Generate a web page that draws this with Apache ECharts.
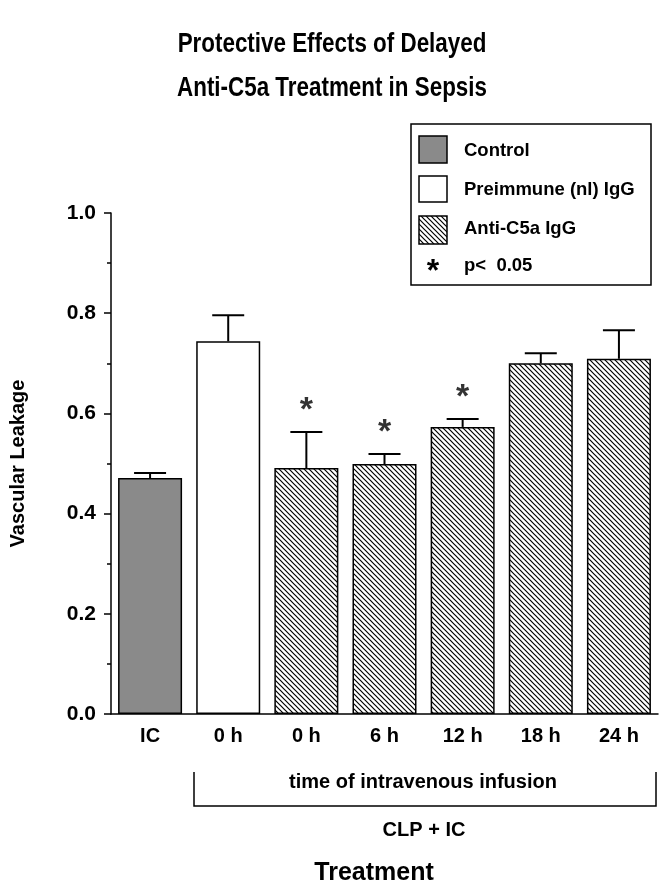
<!DOCTYPE html>
<html>
<head>
<meta charset="utf-8">
<script src="https://cdn.jsdelivr.net/npm/echarts@6/dist/echarts.min.js"></script>
<style>
html,body{margin:0;padding:0;background:#fff;}
#chart{width:665px;height:888px;}
</style>
</head>
<body>
<div id="chart"></div>
<script>
// ---- data ----
const categories = ['IC', '0 h', '0 h', '6 h', '12 h', '18 h', '24 h'];
const controlValues   = [0.471, '-', '-', '-', '-', '-', '-'];
const preimmuneValues = ['-', 0.744, '-', '-', '-', '-', '-'];
const antiC5aValues   = ['-', '-', 0.491, 0.499, 0.573, 0.700, 0.709];
const errorValues     = [0.010, 0.052, 0.072, 0.020, 0.016, 0.020, 0.057];
const significant     = [false, false, true, true, true, false, false];
const yTicks = [0, 0.2, 0.4, 0.6, 0.8, 1.0];

const titleLines = ['Protective Effects of Delayed', 'Anti-C5a Treatment in Sepsis'];
const legendLabels = ['Control', 'Preimmune (nl) IgG', 'Anti-C5a IgG', 'p<  0.05'];

// ---- helpers ----
function hatchCanvas() {
  const s = 5;
  const c = document.createElement('canvas');
  c.width = s; c.height = s;
  const g = c.getContext('2d');
  g.fillStyle = '#fff';
  g.fillRect(0, 0, s, s);
  g.strokeStyle = '#000';
  g.lineWidth = 1.2;
  g.beginPath();
  g.moveTo(-1, -1); g.lineTo(s + 1, s + 1);
  g.moveTo(-1, s - 1); g.lineTo(1, s + 1);
  g.moveTo(s - 1, -1); g.lineTo(s + 1, 1);
  g.stroke();
  return c;
}
const hatch = { image: hatchCanvas(), repeat: 'repeat' };
const grayFill = '#8a8a8a';
const FONT = '"Liberation Sans", Arial, sans-serif';

const means = categories.map((c, i) => {
  if (controlValues[i] !== '-') return controlValues[i];
  if (preimmuneValues[i] !== '-') return preimmuneValues[i];
  return antiC5aValues[i];
});
const starData = [];
categories.forEach((c, i) => { if (significant[i]) starData.push([i, means[i] + errorValues[i]]); });

const chart = echarts.init(document.getElementById('chart'), null, { renderer: 'canvas' });

const barBase = {
  type: 'bar',
  stack: 'one',
  barWidth: 64
};

const option = {
  animation: false,
  backgroundColor: '#fff',
  grid: { left: 110, right: 7, top: 213, bottom: 174, containLabel: false },
  xAxis: {
    type: 'category',
    data: categories,
    axisLine: { lineStyle: { color: '#000', width: 1.5 } },
    axisTick: { alignWithLabel: true, length: 6, lineStyle: { color: '#000', width: 1.5 } },
    axisLabel: { color: '#000', fontFamily: FONT, fontWeight: 'bold', fontSize: 20, margin: 12 },
    splitLine: { show: false }
  },
  yAxis: {
    type: 'value',
    min: 0, max: 1, interval: 0.2,
    name: 'Vascular Leakage',
    nameLocation: 'middle',
    nameRotate: 90,
    nameGap: 83,
    nameTextStyle: { color: '#000', fontFamily: FONT, fontWeight: 'bold', fontSize: 20 },
    axisLine: { show: true, lineStyle: { color: '#000', width: 1.5 } },
    axisTick: { show: true, length: 7, lineStyle: { color: '#000', width: 1.5 } },
    minorTick: { show: true, splitNumber: 2, length: 4, lineStyle: { color: '#000', width: 1.5 } },
    axisLabel: {
      color: '#000', fontFamily: FONT, fontWeight: 'bold', fontSize: 21, margin: 15,
      formatter: v => yTicks.some(t => Math.abs(t - v) < 1e-9) ? v.toFixed(1) : ''
    },
    splitLine: { show: false }
  },
  series: [
    Object.assign({}, barBase, { name: 'Control', data: controlValues, itemStyle: { color: grayFill, borderColor: '#000', borderWidth: 1.5 } }),
    Object.assign({}, barBase, { name: 'Preimmune (nl) IgG', data: preimmuneValues, itemStyle: { color: '#fff', borderColor: '#000', borderWidth: 1.5 } }),
    Object.assign({}, barBase, { name: 'Anti-C5a IgG', data: antiC5aValues, itemStyle: { color: hatch, borderColor: '#000', borderWidth: 1.5 } }),
    {
      type: 'custom',
      name: 'error',
      z: 10,
      data: categories.map((c, i) => [i, means[i], errorValues[i]]),
      renderItem: function (params, api) {
        const x = api.value(0), m = api.value(1), e = api.value(2);
        const p0 = api.coord([x, m]);
        const p1 = api.coord([x, m + e]);
        return {
          type: 'group',
          children: [
            { type: 'line', shape: { x1: p0[0], y1: p0[1], x2: p1[0], y2: p1[1] }, style: { stroke: '#000', lineWidth: 2 } },
            { type: 'line', shape: { x1: p1[0] - 16, y1: p1[1], x2: p1[0] + 16, y2: p1[1] }, style: { stroke: '#000', lineWidth: 2 } }
          ]
        };
      }
    },
    {
      type: 'scatter',
      name: 'significance',
      data: starData,
      symbolSize: 0,
      z: 11,
      label: {
        show: true, position: 'inside', offset: [0, -21], formatter: '*',
        color: '#000', fontFamily: FONT, fontWeight: 'bold', fontSize: 34
      }
    }
  ],
  graphic: [
    { type: 'text', x: 332, y: 44, scaleX: 0.8, style: { text: titleLines[0], font: 'bold 28px ' + FONT, fill: '#000', textAlign: 'center', textVerticalAlign: 'middle' } },
    { type: 'text', x: 332, y: 88, scaleX: 0.8, style: { text: titleLines[1], font: 'bold 28px ' + FONT, fill: '#000', textAlign: 'center', textVerticalAlign: 'middle' } },
    // legend box
    { type: 'rect', shape: { x: 411, y: 124, width: 240, height: 161 }, style: { fill: '#fff', stroke: '#000', lineWidth: 1.5 } },
    { type: 'rect', shape: { x: 419, y: 136, width: 28, height: 27 }, style: { fill: grayFill, stroke: '#000', lineWidth: 1.5 } },
    { type: 'rect', shape: { x: 419, y: 176, width: 28, height: 26 }, style: { fill: '#fff', stroke: '#000', lineWidth: 1.5 } },
    { type: 'rect', shape: { x: 419, y: 216, width: 28, height: 28 }, style: { fill: hatch, stroke: '#000', lineWidth: 1.5 } },
    { type: 'text', x: 433, y: 272, style: { text: '*', font: 'bold 32px ' + FONT, fill: '#000', textAlign: 'center', textVerticalAlign: 'middle' } },
    { type: 'text', x: 464, y: 151, style: { text: legendLabels[0], font: 'bold 18.5px ' + FONT, fill: '#000', textVerticalAlign: 'middle' } },
    { type: 'text', x: 464, y: 190, style: { text: legendLabels[1], font: 'bold 18.5px ' + FONT, fill: '#000', textVerticalAlign: 'middle' } },
    { type: 'text', x: 464, y: 229, style: { text: legendLabels[2], font: 'bold 18.5px ' + FONT, fill: '#000', textVerticalAlign: 'middle' } },
    { type: 'text', x: 464, y: 266, style: { text: legendLabels[3], font: 'bold 18.5px ' + FONT, fill: '#000', textVerticalAlign: 'middle' } },
    // bracket
    { type: 'polyline', shape: { points: [[194, 772], [194, 806], [656, 806], [656, 772]] }, style: { stroke: '#000', lineWidth: 1.5, fill: null } },
    { type: 'text', x: 423, y: 782, style: { text: 'time of intravenous infusion', font: 'bold 20px ' + FONT, fill: '#000', textAlign: 'center', textVerticalAlign: 'middle' } },
    { type: 'text', x: 424, y: 830, style: { text: 'CLP + IC', font: 'bold 20px ' + FONT, fill: '#000', textAlign: 'center', textVerticalAlign: 'middle' } },
    { type: 'text', x: 374, y: 873, style: { text: 'Treatment', font: 'bold 25px ' + FONT, fill: '#000', textAlign: 'center', textVerticalAlign: 'middle' } }
  ]
};
chart.setOption(option);
</script>
</body>
</html>
